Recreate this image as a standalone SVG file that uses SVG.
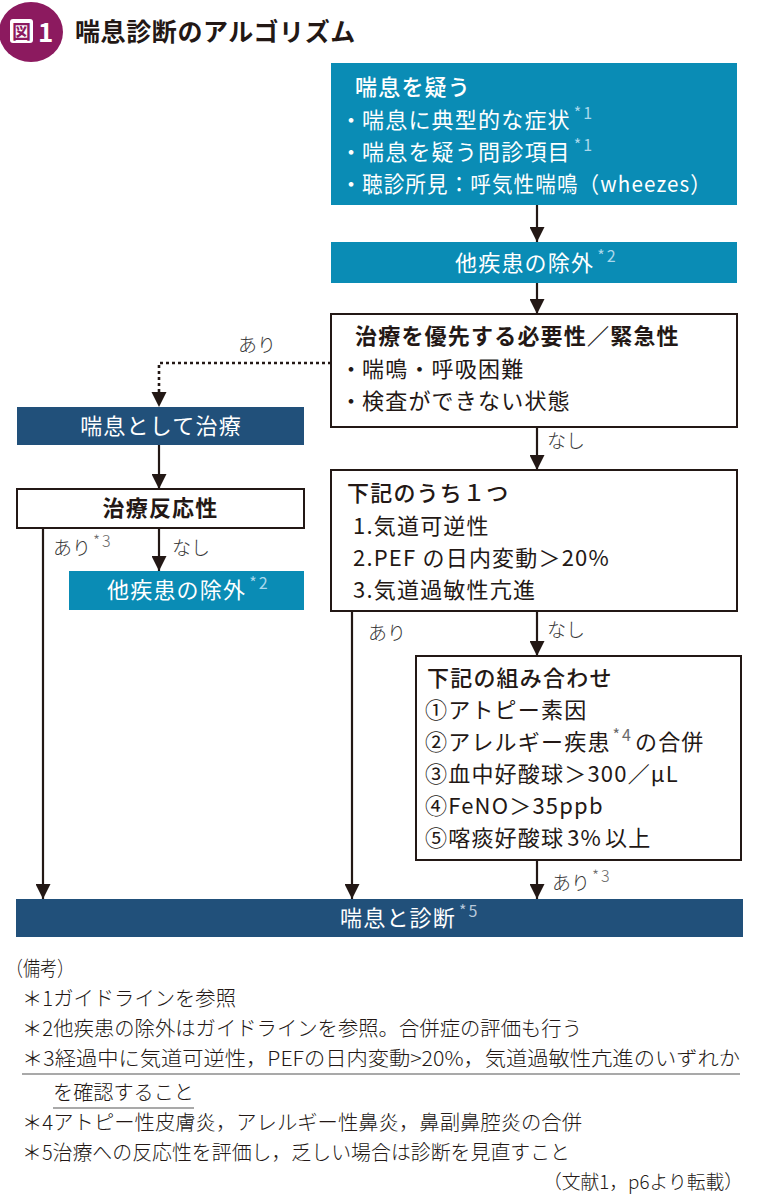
<svg xmlns="http://www.w3.org/2000/svg" width="760" height="1200" viewBox="0 0 760 1200">
<style>
text{font-family:"Noto Sans CJK JP","Noto Sans",sans-serif;}
.t{font-size:22px;fill:#231815;letter-spacing:1.2px;}
.w{font-size:22px;fill:#ffffff;letter-spacing:1.2px;}
.b{font-weight:700;}
.m{font-weight:500;}
.lbl{font-size:19px;fill:#3a3a3a;font-weight:300;}
.supT{font-size:16px;fill:#a9d8ec;letter-spacing:2px;}
.supD{font-size:16px;fill:#b8c8da;letter-spacing:2px;}
.supW{font-size:16px;fill:#6a6a6a;letter-spacing:2px;}
.fn{font-size:20.5px;fill:#231815;font-weight:300;}
.teal{fill:#0a8cb5;}
.navy{fill:#21507a;}
.wbox{fill:#ffffff;stroke:#231815;stroke-width:2;}
.ln{fill:none;stroke:#231815;stroke-width:2.2;}
.dot{fill:none;stroke:#231815;stroke-width:2.6;stroke-dasharray:3 3;}
.ul{stroke:#555555;stroke-width:1.2;}
</style>
<defs>
<marker id="ah" viewBox="0 0 10 10" refX="10" refY="5" markerWidth="15" markerHeight="15" markerUnits="userSpaceOnUse" orient="auto">
<path d="M0,0 L10,5 L0,10 z" fill="#231815"/>
</marker>
</defs>
<rect width="760" height="1200" fill="#ffffff"/>

<g id="title">
<ellipse cx="31" cy="32" rx="32" ry="30" fill="#8c1a5f"/>
<rect x="10" y="19" width="23" height="24" rx="3" fill="#ffffff"/>
<text x="21.5" y="38.5" text-anchor="middle" style="font-size:19px;font-weight:700;fill:#8c1a5f;">図</text>
<text x="38" y="42" style="font-size:26px;font-weight:700;fill:#ffffff;">1</text>
<text x="75" y="41" style="font-size:25px;font-weight:700;fill:#231815;letter-spacing:0.6px;">喘息診断のアルゴリズム</text>
</g>

<g id="connectors">
<path class="ln" d="M537,205 V242" marker-end="url(#ah)"/>
<path class="ln" d="M537,283 V314" marker-end="url(#ah)"/>
<path class="dot" d="M331,363 H159 V392"/>
<path d="M151.5,392 L166.5,392 L159,407 z" fill="#231815"/>
<path class="ln" d="M159,445 V489" marker-end="url(#ah)"/>
<path class="ln" d="M159,528 V571" marker-end="url(#ah)"/>
<path class="ln" d="M43,528 V899" marker-end="url(#ah)"/>
<path class="ln" d="M537,427 V470" marker-end="url(#ah)"/>
<path class="ln" d="M352,611 V899" marker-end="url(#ah)"/>
<path class="ln" d="M537,611 V656" marker-end="url(#ah)"/>
<path class="ln" d="M537,860 V899" marker-end="url(#ah)"/>
<text class="lbl" x="238" y="352">あり</text>
<text class="lbl" x="53" y="555">あり<tspan class="supW" dy="-8" dx="2">*3</tspan></text>
<text class="lbl" x="172" y="555">なし</text>
<text class="lbl" x="547" y="448">なし</text>
<text class="lbl" x="368" y="640">あり</text>
<text class="lbl" x="547" y="637">なし</text>
<text class="lbl" x="552" y="890">あり<tspan class="supW" dy="-8" dx="2">*3</tspan></text>
</g>

<g id="n1">
<rect class="teal" x="331" y="63" width="406" height="142"/>
<text class="w m" x="355" y="95">喘息を疑う</text>
<text class="w" y="128"><tspan x="340">・</tspan><tspan x="362">喘息に典型的な症状</tspan><tspan class="supT" dx="3" dy="-9">*1</tspan></text>
<text class="w" y="160"><tspan x="340">・</tspan><tspan x="362">喘息を疑う問診項目</tspan><tspan class="supT" dx="3" dy="-9">*1</tspan></text>
<text class="w" y="192"><tspan x="340">・</tspan><tspan x="362" textLength="350" lengthAdjust="spacingAndGlyphs">聴診所見：呼気性喘鳴（wheezes）</tspan></text>
</g>

<g id="n2">
<rect class="teal" x="331" y="242" width="406" height="41"/>
<text class="w" x="455" y="271">他疾患の除外<tspan class="supT" dx="3" dy="-9">*2</tspan></text>
</g>

<g id="n3">
<rect class="wbox" x="331" y="314" width="406" height="113"/>
<text class="t b" x="355" y="344">治療を優先する必要性／緊急性</text>
<text class="t" y="377"><tspan x="340">・</tspan><tspan x="362">喘鳴・呼吸困難</tspan></text>
<text class="t" y="409"><tspan x="340">・</tspan><tspan x="362">検査ができない状態</tspan></text>
</g>

<g id="n4">
<rect class="navy" x="17" y="407" width="287" height="38"/>
<text class="w" x="161" y="434" text-anchor="middle">喘息として治療</text>
</g>

<g id="n5">
<rect class="wbox" x="17" y="489" width="287" height="39"/>
<text class="t b" x="160.5" y="516" text-anchor="middle">治療反応性</text>
</g>

<g id="n6">
<rect class="teal" x="69" y="571" width="235" height="39"/>
<text class="w" x="107" y="598">他疾患の除外<tspan class="supT" dx="3" dy="-9">*2</tspan></text>
</g>

<g id="n7">
<rect class="wbox" x="331" y="470" width="406" height="141"/>
<text class="t m" x="347" y="501">下記のうち１つ</text>
<text class="t" x="353" y="534">1.気道可逆性</text>
<text class="t" x="353" y="566">2.PEF の日内変動＞20%</text>
<text class="t" x="353" y="598">3.気道過敏性亢進</text>
</g>

<g id="n8">
<rect class="wbox" x="416" y="656" width="325" height="204"/>
<text class="t m" x="427" y="686">下記の組み合わせ</text>
<text class="t" x="425" y="718">①アトピー素因</text>
<text class="t" x="425" y="750">②アレルギー疾患<tspan class="supW" dx="2" dy="-9">*4</tspan><tspan dy="9" dx="2">の合併</tspan></text>
<text class="t" x="425" y="782">③血中好酸球＞300／μL</text>
<text class="t" x="425" y="814">④FeNO＞35ppb</text>
<text class="t" x="425" y="846">⑤喀痰好酸球<tspan dx="3">3%</tspan><tspan dx="3">以上</tspan></text>
</g>

<g id="n9">
<rect class="navy" x="16" y="899" width="727" height="38"/>
<text class="w" x="340" y="926">喘息と診断<tspan class="supD" dx="3" dy="-9">*5</tspan></text>
</g>

<g id="notes">
<text class="fn" x="6" y="976" textLength="68" lengthAdjust="spacingAndGlyphs">（備考）</text>
<text class="fn" x="22" y="1006" textLength="214" lengthAdjust="spacingAndGlyphs">＊1ガイドラインを参照</text>
<text class="fn" x="22" y="1036" textLength="560" lengthAdjust="spacingAndGlyphs">＊2他疾患の除外はガイドラインを参照。合併症の評価も行う</text>
<text class="fn" x="22" y="1066" textLength="718" lengthAdjust="spacingAndGlyphs">＊3経過中に気道可逆性，PEFの日内変動&gt;20%，気道過敏性亢進のいずれか</text>
<line class="ul" x1="22" y1="1074" x2="740" y2="1074"/>
<text class="fn" x="53" y="1100" textLength="141" lengthAdjust="spacingAndGlyphs">を確認すること</text>
<line class="ul" x1="53" y1="1108" x2="194" y2="1108"/>
<text class="fn" x="22" y="1130" textLength="560" lengthAdjust="spacingAndGlyphs">＊4アトピー性皮膚炎，アレルギー性鼻炎，鼻副鼻腔炎の合併</text>
<text class="fn" x="22" y="1160" textLength="548" lengthAdjust="spacingAndGlyphs">＊5治療への反応性を評価し，乏しい場合は診断を見直すこと</text>
<text x="543" y="1189" textLength="200" lengthAdjust="spacingAndGlyphs" style="font-size:19px;fill:#231815;font-weight:300;">（文献1，p6より転載）</text>
</g>
</svg>
